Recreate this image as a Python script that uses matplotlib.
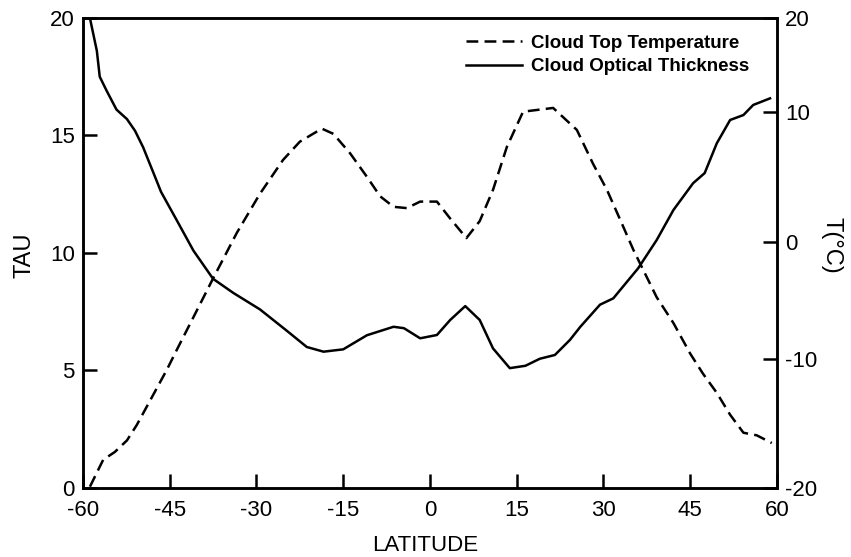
import numpy as np
import matplotlib
matplotlib.use("Agg")
import matplotlib.pyplot as plt

plt.rcParams['font.family'] = ['Liberation Sans', 'DejaVu Sans']
plt.rcParams['lines.scale_dashes'] = False

# cloud optical thickness (left axis)
tau_lat = [-58.8, -57.6, -57.1, -55.9, -54.2, -52.4, -51.0, -49.6, -47.8, -46.5,
           -43.8, -40.9, -37.5, -34.0, -29.4, -24.8, -21.3, -18.4, -15.0, -10.9,
           -6.3, -4.5, -1.7, 1.2, 3.5, 6.1, 8.6, 10.9, 13.8, 16.5,
           19.0, 21.6, 24.2, 26.0, 29.4, 31.7, 36.0, 39.2, 42.1, 45.5,
           47.5, 49.6, 51.9, 54.2, 55.9, 58.8]
tau_val = [20.0, 18.6, 17.5, 16.9, 16.1, 15.7, 15.2, 14.5, 13.4, 12.6,
           11.4, 10.1, 8.9, 8.3, 7.6, 6.7, 6.0, 5.8, 5.9, 6.5,
           6.86, 6.8, 6.37, 6.51, 7.15, 7.74, 7.15, 5.94, 5.1, 5.2,
           5.5, 5.66, 6.3, 6.86, 7.8, 8.07, 9.35, 10.55, 11.83, 12.97,
           13.4, 14.67, 15.66, 15.87, 16.3, 16.58]

# cloud top temperature (right axis, deg C)
temp_lat = [-58.8, -56.5, -54.5, -52.4, -50.7, -48.4, -45.5, -43.8, -40.9, -37.5,
            -33.4, -29.4, -25.4, -22.5, -18.7, -16.7, -13.8, -10.9, -8.6, -6.3,
            -4.0, -1.7, 1.2, 3.5, 6.3, 8.6, 10.9, 13.3, 16.1, 21.3,
            25.4, 28.2, 30.6, 32.9, 35.2, 39.2, 42.1, 45.0, 47.2, 49.6,
            51.9, 54.2, 56.5, 59.1]
temp_val = [-19.9, -17.8, -17.2, -16.3, -15.1, -13.2, -10.8, -9.2, -6.4, -3.1,
            0.7, 3.7, 6.3, 7.7, 8.7, 8.3, 6.8, 5.0, 3.5, 2.7,
            2.6, 3.1, 3.1, 1.8, 0.3, 1.6, 4.0, 7.3, 10.0, 10.4,
            8.6, 6.0, 4.0, 1.7, -0.7, -4.7, -6.9, -9.5, -11.1, -12.6,
            -14.3, -15.7, -15.9, -16.5]

lat_ticks = [-60, -45, -30, -15, 0, 15, 30, 45, 60]
tau_ticks = [0, 5, 10, 15, 20]
temp_ticks = [-20, -10, 0, 10, 20]

# the temperature axis was lettered by hand with uneven spacing
temp_knots = np.array([-20.0, -10.0, 0.0, 10.0, 20.0])
temp_pos = np.array([0.0, 128.5, 246.0, 376.3, 470.0]) / 470.0


def temp_fwd(t):
    return np.interp(t, temp_knots, temp_pos)


def temp_inv(p):
    return np.interp(p, temp_pos, temp_knots)


fig = plt.figure(figsize=(8.51, 5.57), dpi=100)
ax = fig.add_axes([0.0975, 0.1239, 0.8155, 0.8438])
ax2 = ax.twinx()

solid, = ax.plot(tau_lat, tau_val, color='black', lw=1.8,
                 label='Cloud Optical Thickness')
dashed, = ax2.plot(temp_lat, temp_val, color='black', lw=1.8,
                   dashes=(8.5, 4.5), label='Cloud Top Temperature')

ax.set_xlim(-60, 60)
ax.set_ylim(0, 20)
ax.set_xticks(lat_ticks)
ax.set_xticklabels([str(v) for v in lat_ticks])
ax.set_yticks(tau_ticks)

ax2.set_yscale('function', functions=(temp_fwd, temp_inv))
ax2.set_ylim(-20, 20)
ax2.set_yticks(temp_ticks)
ax2.set_yticklabels([str(v) for v in temp_ticks])
ax2.yaxis.set_minor_locator(plt.NullLocator())

for a in (ax, ax2):
    for s in a.spines.values():
        s.set_linewidth(1.8)

ax.tick_params(axis='x', direction='in', length=10, width=1.8, pad=9, labelsize=16)
ax.tick_params(axis='y', direction='in', length=10, width=1.8, pad=6, labelsize=16)
ax2.tick_params(axis='y', direction='in', length=10, width=1.8, pad=6, labelsize=16)

ax.set_xlabel('LATITUDE', fontsize=16)
ax.set_ylabel('TAU', fontsize=17)
ax2.set_ylabel('T(°C)', fontsize=17, rotation=270)
ax.xaxis.set_label_coords(0.493, -0.100)
ax.yaxis.set_label_coords(-0.069, 0.496)
ax2.yaxis.set_label_coords(1.095, 0.517)

leg = ax2.legend(handles=[dashed, solid], loc='upper left',
                 bbox_to_anchor=(0.538, 0.985), frameon=False, borderpad=0,
                 handlelength=3.0, handletextpad=0.5, labelspacing=0.35,
                 prop={'weight': 'bold', 'size': 13.5})

fig.savefig('out.png', dpi=100)
